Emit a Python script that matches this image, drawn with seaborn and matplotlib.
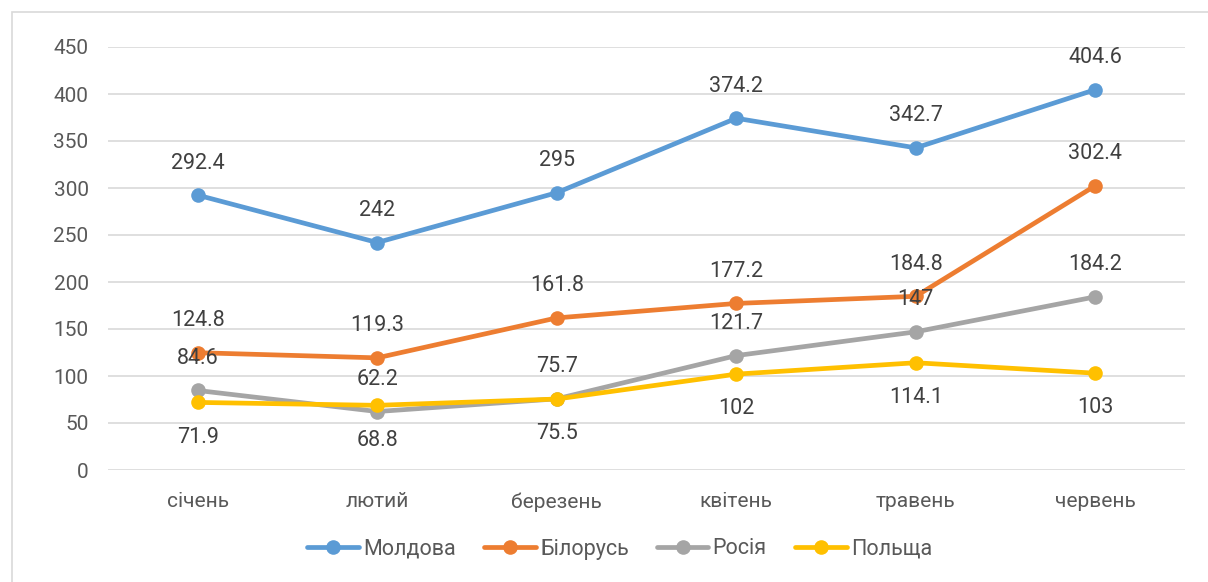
import matplotlib
matplotlib.use('Agg')
import matplotlib.pyplot as plt
from matplotlib.patches import Rectangle
import pandas as pd
import seaborn as sns

months = ['січень', 'лютий', 'березень', 'квітень', 'травень', 'червень']
countries = ['Молдова', 'Білорусь', 'Росія', 'Польща']
moldova = [292.4, 242, 295, 374.2, 342.7, 404.6]
belarus = [124.8, 119.3, 161.8, 177.2, 184.8, 302.4]
russia = [84.6, 62.2, 75.7, 121.7, 147, 184.2]
poland = [71.9, 68.8, 75.5, 102, 114.1, 103]
colors = ['#5B9BD5', '#ED7D31', '#A5A5A5', '#FFC000']

series = [moldova, belarus, russia, poland]
df = pd.DataFrame({
    'month': months * len(countries),
    'country': [c for c in countries for _ in months],
    'value': [v for s in series for v in s],
})

sns.set_theme(style='white')
plt.rcParams['font.family'] = ['Roboto', 'DejaVu Sans']

fig = plt.figure(figsize=(12.08, 5.82), dpi=100)
ax = fig.add_axes([108 / 1208, 112 / 582, 1077 / 1208, 423 / 582])

sns.lineplot(data=df, x='month', y='value', hue='country', hue_order=countries,
             palette=colors, marker='o', markersize=10.5, markeredgewidth=0,
             linewidth=3.4, sort=False, ax=ax, legend=True)

# data labels: last series goes below, the rest above
for name, vals in zip(countries, series):
    dy = -25 if name == 'Польща' else 23
    for j, v in enumerate(vals):
        ax.annotate(f'{v:g}', (j, v), xytext=(0, dy), textcoords='offset points',
                    ha='center', va='center', fontsize=15.5, color='#404040')

ax.set_xlim(-0.5, len(months) - 0.5)
ax.set_ylim(0, 450)
ax.set_yticks(range(0, 451, 50))
ax.grid(axis='y', color='#D9D9D9', linewidth=1.2)
ax.set_axisbelow(True)
for s in ax.spines.values():
    s.set_visible(False)
ax.tick_params(axis='both', length=0, labelsize=15, colors='#595959')
ax.tick_params(axis='x', pad=16)
ax.tick_params(axis='y', pad=14)
ax.set_xlabel('')
ax.set_ylabel('')

handles, labels = ax.get_legend_handles_labels()
ax.legend(handles, labels, loc='center', bbox_to_anchor=(0.513, (582 - 549) / 582),
          bbox_transform=fig.transFigure, ncol=4, frameon=False, fontsize=15.5,
          handlelength=2.4, handletextpad=0.2, columnspacing=1.3, labelcolor='#595959')

fig.patches.append(Rectangle((12 / 1208, -0.1), 1.2, (582 - 12) / 582 + 0.1,
                             transform=fig.transFigure, fill=False,
                             edgecolor='#D9D9D9', linewidth=1.2))

fig.savefig('out.png', dpi=100)
